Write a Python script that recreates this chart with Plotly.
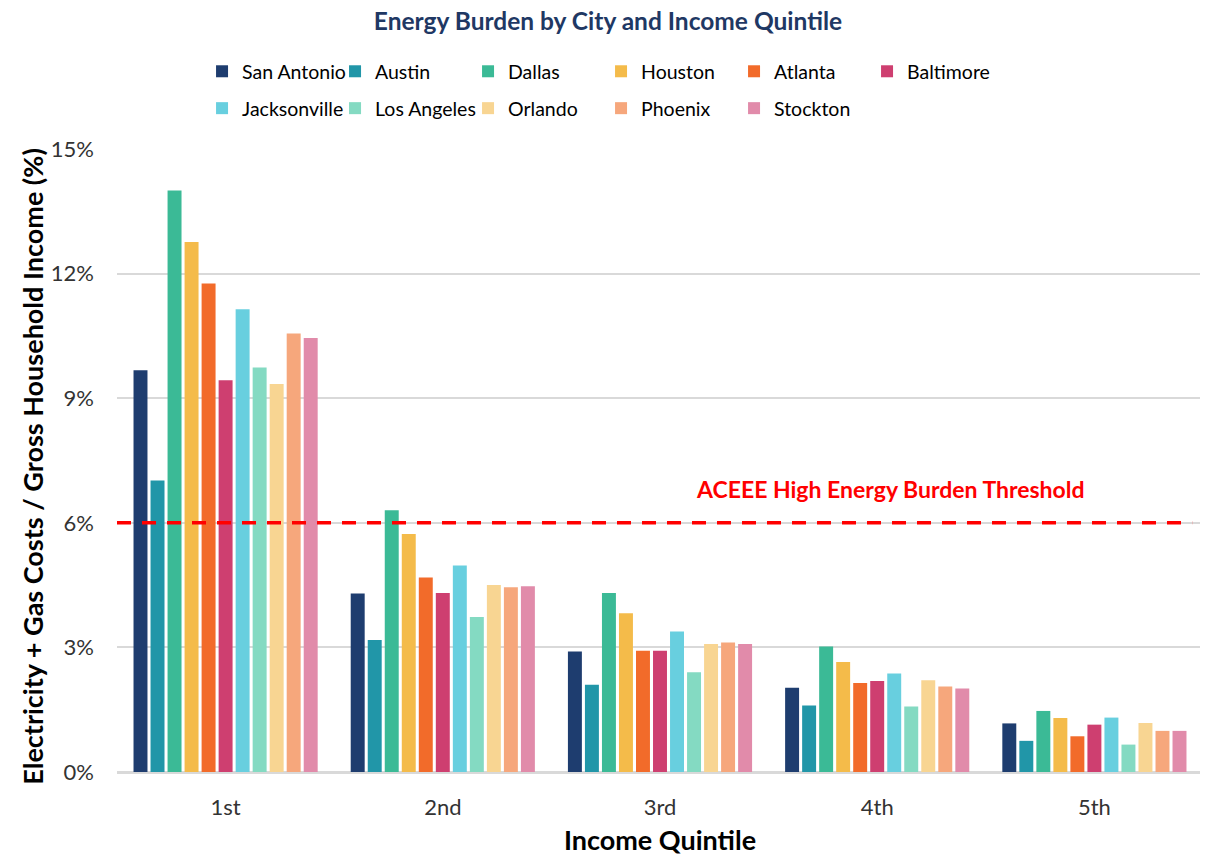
import plotly.graph_objects as go

quintiles = ["1st", "2nd", "3rd", "4th", "5th"]
cities = ["San Antonio", "Austin", "Dallas", "Houston", "Atlanta", "Baltimore",
          "Jacksonville", "Los Angeles", "Orlando", "Phoenix", "Stockton"]
colors = ["#1E3D6F", "#2196A8", "#3BBA96", "#F4BB4A", "#F26B2A", "#CE3F70",
          "#68CFDF", "#84DAC2", "#F8D592", "#F6A77C", "#E18BAA"]

san_antonio = [9.67, 4.30, 2.90, 2.03, 1.17]
austin = [7.02, 3.18, 2.10, 1.60, 0.75]
dallas = [14.0, 6.30, 4.31, 3.02, 1.47]
houston = [12.76, 5.73, 3.82, 2.65, 1.30]
atlanta = [11.76, 4.68, 2.92, 2.14, 0.86]
baltimore = [9.43, 4.31, 2.92, 2.19, 1.14]
jacksonville = [11.14, 4.97, 3.38, 2.37, 1.31]
los_angeles = [9.74, 3.73, 2.40, 1.58, 0.66]
orlando = [9.34, 4.50, 3.08, 2.21, 1.18]
phoenix = [10.56, 4.45, 3.12, 2.06, 0.99]
stockton = [10.45, 4.47, 3.08, 2.01, 0.99]

series = [san_antonio, austin, dallas, houston, atlanta, baltimore,
          jacksonville, los_angeles, orlando, phoenix, stockton]

threshold = 6
threshold_label = "ACEEE High Energy Burden Threshold"
y_title = "Electricity + Gas Costs / Gross Household Income (%)"
y_ticks = [0, 3, 6, 9, 12, 15]

FONT = "Lato"

fig = go.Figure()
for i, (name, vals, col) in enumerate(zip(cities, series, colors)):
    fig.add_trace(go.Bar(
        x=quintiles, y=vals, name=name,
        marker=dict(color=col, line=dict(width=0)),
        legend="legend" if i < 6 else "legend2",
    ))

fig.add_shape(type="line", xref="paper", yref="y", x0=0, x1=0.99,
              y0=threshold, y1=threshold,
              line=dict(color="#FF0000", width=3.5, dash="14px,11px"))
fig.add_annotation(xref="paper", yref="y", x=0.712, y=6.81,
                   xanchor="center", yanchor="middle",
                   text="<b>" + threshold_label + "</b>", showarrow=False,
                   font=dict(family=FONT, size=23, color="#FF0000"))
# y-axis title (placed as rotated text to match the reference position)
fig.add_annotation(xref="paper", yref="paper", x=-0.078, y=0.4904,
                   xanchor="center", yanchor="middle", textangle=-90,
                   text="<b>" + y_title + "</b>", showarrow=False,
                   font=dict(family=FONT, size=27, color="#000000"))

legend_common = dict(orientation="h", xanchor="left", yanchor="top",
                     xref="container", yref="container",
                     entrywidth=88, entrywidthmode="pixels",
                     font=dict(family=FONT, size=19.5, color="#000000"),
                     bgcolor="rgba(0,0,0,0)", itemclick=False)

# the page body adds an 8px offset, so the figure is 8px smaller and shifted
fig.update_layout(
    width=1200, height=848,
    margin=dict(l=109, r=5, t=141, b=84, autoexpand=False),
    paper_bgcolor="white", plot_bgcolor="white",
    barmode="group", bargap=0.138, bargroupgap=0.18,
    title=dict(text="<b>Energy Burden by City and Income Quintile</b>",
               x=0.5, xanchor="center", y=0.984, yanchor="middle",
               font=dict(family=FONT, size=24.5, color="#1F3864")),
    legend=dict(x=0.1617, y=0.948, **legend_common),
    legend2=dict(x=0.1617, y=0.9045, **legend_common),
    xaxis=dict(title=dict(text="<b>Income Quintile</b>",
                          font=dict(family=FONT, size=27, color="#000000"),
                          standoff=21),
               tickfont=dict(family=FONT, size=22, color="#333333"),
               showline=True, linecolor="#D9D9D9", linewidth=1.5,
               ticks="", showgrid=False, ticklabelstandoff=15, automargin=False),
    yaxis=dict(range=[0, 15], tickvals=y_ticks,
               ticktext=[f"{v}%" for v in y_ticks],
               tickfont=dict(family=FONT, size=22, color="#333333"),
               showgrid=True, gridcolor="#D9D9D9", gridwidth=1.5,
               zeroline=True, zerolinecolor="#D9D9D9", zerolinewidth=1.5,
               ticks="", ticklabelstandoff=22, automargin=False),
)

fig.write_html("out.html")
